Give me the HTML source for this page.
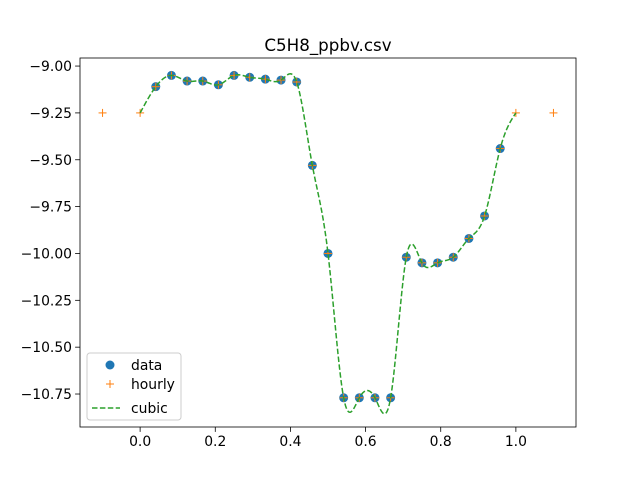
<!DOCTYPE html>
<html><head><meta charset="utf-8"><style>
body{margin:0;background:#fff;}
svg{font-family:"DejaVu Sans","Liberation Sans",sans-serif;}
</style></head><body>
<svg id="c" width="640" height="480" xmlns="http://www.w3.org/2000/svg"></svg>
<script>
const dataX = [1,2,3,4,5,6,7,8,9,10,11,12,13,14,15,16,17,18,19,20,21,22,23].map(k=>k/24);
const dataY = [-9.11,-9.05,-9.08,-9.08,-9.10,-9.05,-9.06,-9.07,-9.075,-9.085,-9.53,-10.0,-10.77,-10.77,-10.77,-10.77,-10.02,-10.05,-10.05,-10.02,-9.92,-9.80,-9.44];
const edgeX = [-0.1,0,1,1.1];
const edgeY = [-9.25,-9.25,-9.25,-9.25];
const xTicks = [0,0.2,0.4,0.6,0.8,1.0];
const xTickLabels = ["0.0","0.2","0.4","0.6","0.8","1.0"];
const yTicks = [-9.0,-9.25,-9.5,-9.75,-10.0,-10.25,-10.5,-10.75];
const yTickLabels = ["−9.00","−9.25","−9.50","−9.75","−10.00","−10.25","−10.50","−10.75"];

const L=80,R=576,T=58,B=427;
const xmin=-0.16,xmax=1.16,ymin=-10.926,ymax=-8.957;
const sx=v=>L+(v-xmin)/(xmax-xmin)*(R-L);
const sy=v=>B-(v-ymin)/(ymax-ymin)*(B-T);
const svg=document.getElementById('c');
const NS="http://www.w3.org/2000/svg";
function mk(tag,attrs,parent){const e=document.createElementNS(NS,tag);for(const k in attrs)e.setAttribute(k,attrs[k]);(parent||svg).appendChild(e);return e;}

const kx=[0].concat(dataX,[1]);
const ky=[-9.25].concat(dataY,[-9.25]);
function spline(xs,ys){
  const n=xs.length-1,h=[],al=[],l=[1],mu=[0],z=[0],c=new Array(n+1).fill(0),b=[],d=[];
  for(let i=0;i<n;i++)h[i]=xs[i+1]-xs[i];
  for(let i=1;i<n;i++)al[i]=3/h[i]*(ys[i+1]-ys[i])-3/h[i-1]*(ys[i]-ys[i-1]);
  for(let i=1;i<n;i++){l[i]=2*(xs[i+1]-xs[i-1])-h[i-1]*mu[i-1];mu[i]=h[i]/l[i];z[i]=(al[i]-h[i-1]*z[i-1])/l[i];}
  l[n]=1;z[n]=0;
  for(let j=n-1;j>=0;j--){c[j]=z[j]-mu[j]*c[j+1];b[j]=(ys[j+1]-ys[j])/h[j]-h[j]*(c[j+1]+2*c[j])/3;d[j]=(c[j+1]-c[j])/(3*h[j]);}
  return x=>{let i=xs.findIndex((v,k)=>k<n&&x>=v&&x<=xs[k+1]);if(i<0)i=0;const t=x-xs[i];return ys[i]+b[i]*t+c[i]*t*t+d[i]*t*t*t;};
}
const f=spline(kx,ky);

const frame=mk('rect',{x:L,y:T,width:R-L,height:B-T,fill:'none',stroke:'#000','stroke-width':0.8});


xTicks.forEach((v,i)=>{
  const g=mk('g',{});
  
  mk('line',{x1:sx(v),x2:sx(v),y1:B,y2:B+4.9,stroke:'#000','stroke-width':0.8},g);
  const t=mk('text',{x:sx(v),y:B+19,'font-size':13.9,'text-anchor':'middle'},g);t.textContent=xTickLabels[i];
});
yTicks.forEach((v,i)=>{
  const g=mk('g',{});
  
  mk('line',{x1:L-4.9,x2:L,y1:sy(v),y2:sy(v),stroke:'#000','stroke-width':0.8},g);
  const t=mk('text',{x:L-8,y:sy(v)+5,'font-size':13.9,'text-anchor':'end'},g);t.textContent=yTickLabels[i];
});
const title=mk('text',{x:(L+R)/2,y:T-7,'font-size':16.7,'text-anchor':'middle'});
title.textContent='C5H8_ppbv.csv';


dataX.forEach((x,i)=>{
  const c=mk('circle',{cx:sx(x),cy:sy(dataY[i]),r:4.5,fill:'#1f77b4'});
  
});
function plus(x,y){
  const g=mk('g',{stroke:'#ff7f0e','stroke-width':1});
  
  mk('line',{x1:x-4,x2:x+4,y1:y,y2:y},g);mk('line',{x1:x,x2:x,y1:y-4,y2:y+4},g);
}
edgeX.forEach((x,i)=>plus(sx(x),sy(edgeY[i])));
dataX.forEach((x,i)=>plus(sx(x),sy(dataY[i])));
let d='';
for(let i=0;i<=600;i++){const x=i/600;d+=(i?'L':'M')+sx(x).toFixed(2)+','+sy(f(x)).toFixed(2);}
const cp=mk('path',{d:d,fill:'none',stroke:'#2ca02c','stroke-width':1.5,'stroke-dasharray':'5.5,2.4'});


const lg=mk('g',{});

mk('rect',{x:87,y:353,width:94,height:67,rx:3,fill:'#fff','fill-opacity':0.8,stroke:'#ccc'},lg);
mk('circle',{cx:110,cy:365,r:4.5,fill:'#1f77b4'},lg);
let t=mk('text',{x:131,y:370,'font-size':13.9},lg);t.textContent='data';
mk('line',{x1:106,x2:114,y1:384,y2:384,stroke:'#ff7f0e'},lg);
mk('line',{x1:110,x2:110,y1:380,y2:388,stroke:'#ff7f0e'},lg);
t=mk('text',{x:131,y:389,'font-size':13.9},lg);t.textContent='hourly';
mk('line',{x1:92,x2:120,y1:408,y2:408,stroke:'#2ca02c','stroke-width':1.5,'stroke-dasharray':'5.5,2.4'},lg);
t=mk('text',{x:131,y:413,'font-size':13.9},lg);t.textContent='cubic';
</script>
</body></html>
